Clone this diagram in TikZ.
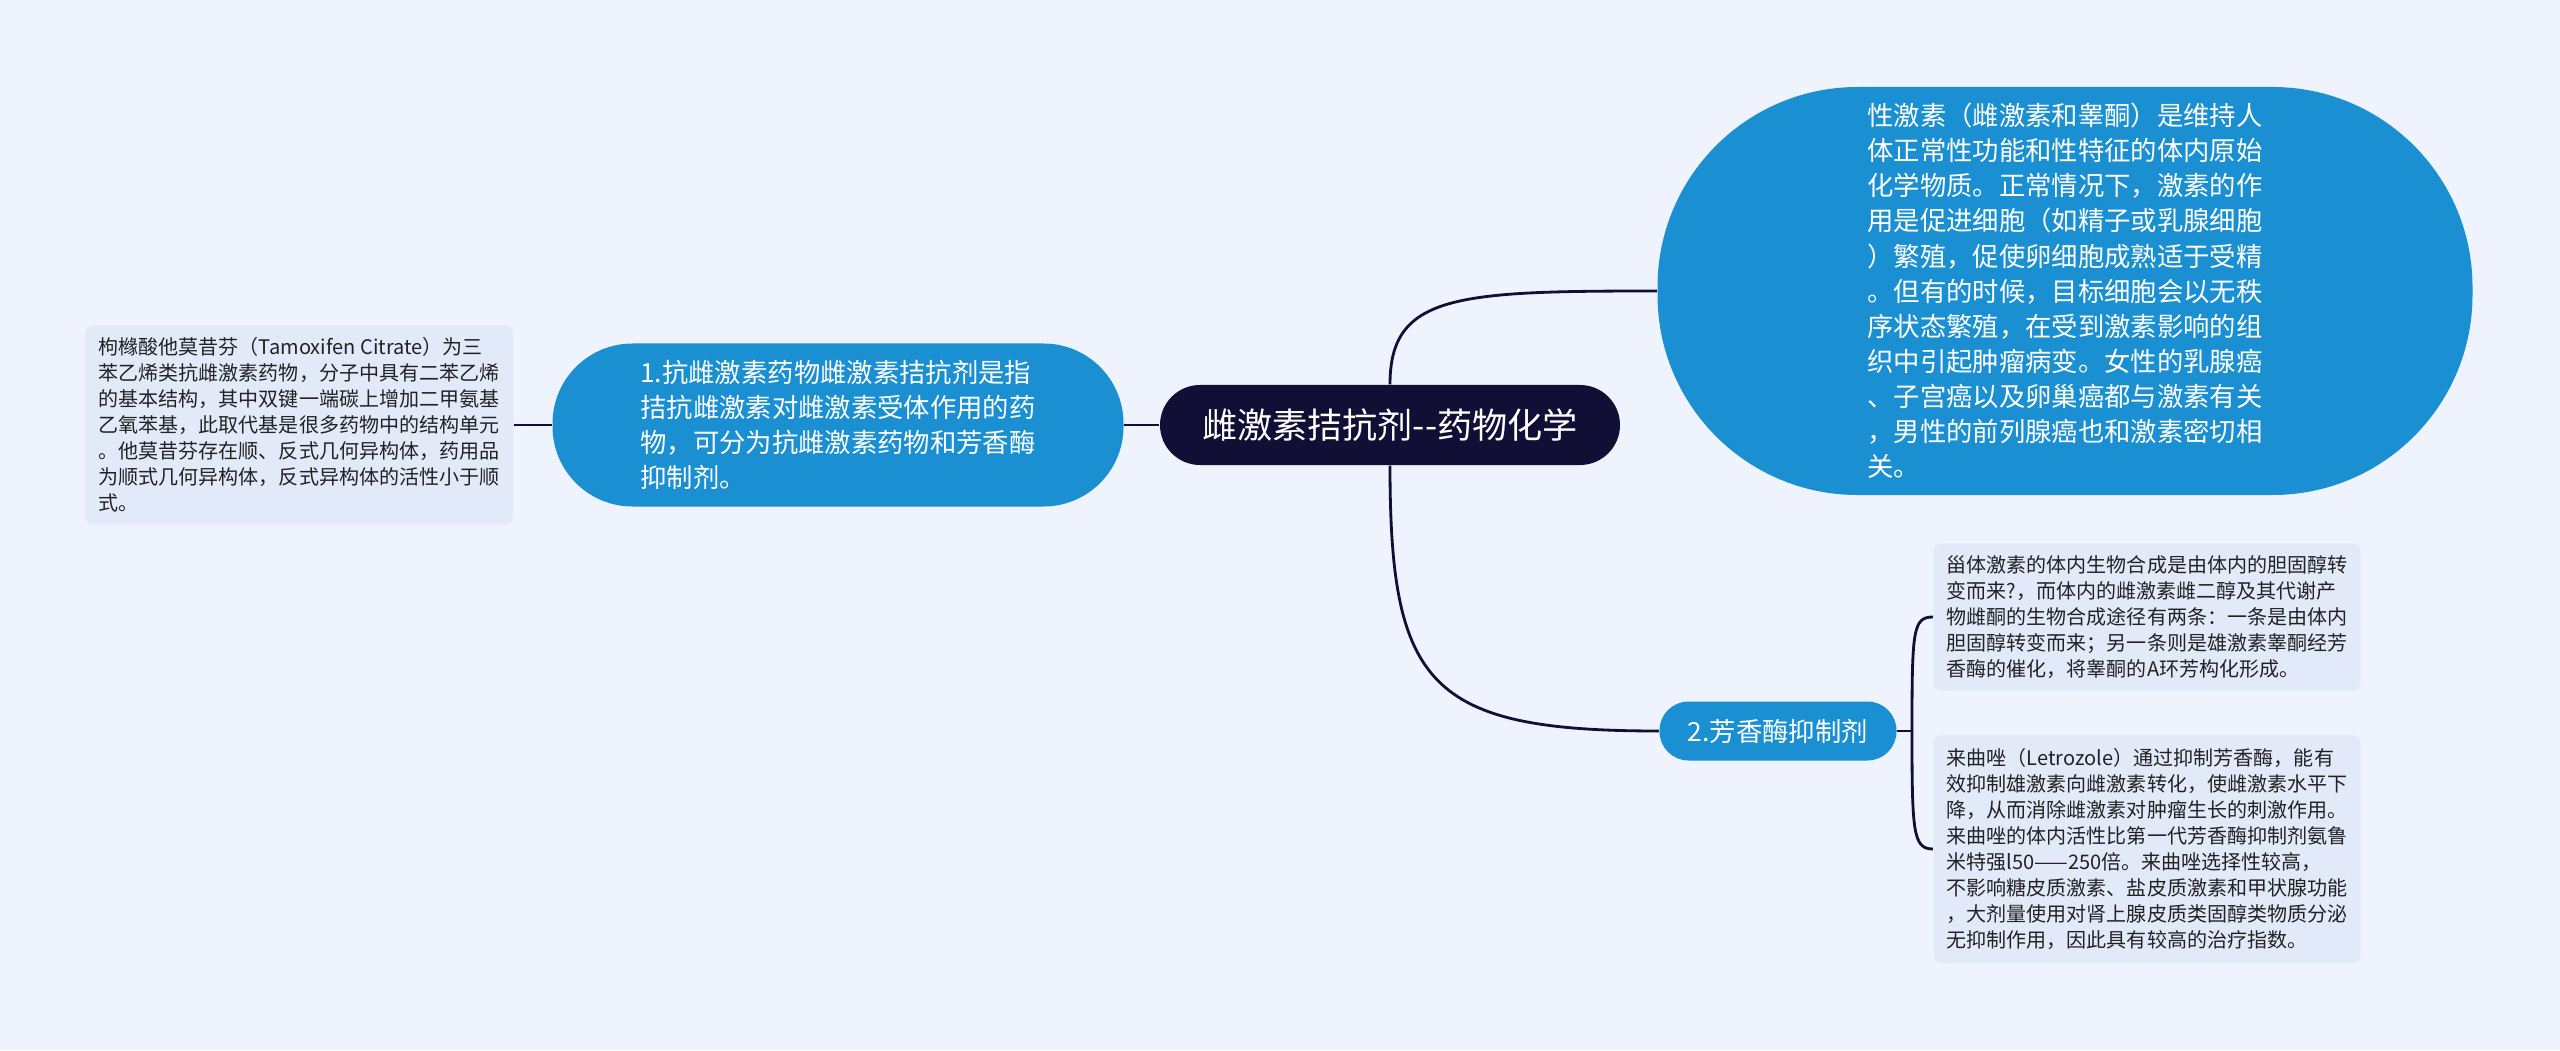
\documentclass[tikz,border=0pt]{standalone}
\usepackage{fontspec}
\newfontfamily\cjk{Noto Sans CJK SC}
\definecolor{bgcol}{HTML}{EEF3FD}
\definecolor{navy}{HTML}{110F35}
\definecolor{topicblue}{HTML}{1A8FD2}
\definecolor{leafcol}{HTML}{E2EAFA}
\definecolor{leaftext}{HTML}{222222}

\begin{document}
\begin{tikzpicture}[root/.style={fill=navy,text=white,rounded corners=0.4cm,minimum width=4.6cm,minimum height=0.8cm,inner sep=0pt,font=\cjk\fontsize{10}{12}\selectfont},
topic/.style={fill=topicblue,text=white,align=left,inner sep=0pt,font=\cjk\fontsize{7.5}{10}\selectfont},
leaf/.style={fill=leafcol,text=leaftext,rounded corners=0.08cm,align=left,inner sep=0pt,font=\cjk\fontsize{5.7}{7.4}\selectfont},
link/.style={draw=navy,line width=0.8pt}]
\fill[bgcol] (0,0) rectangle (25.6,10.5);
\useasboundingbox (0,0) rectangle (25.6,10.5);

\node[root] at (13.90,6.25) (central) {雌激素拮抗剂--药物化学};
\node[topic,rounded corners=0.8cm,minimum width=5.71cm,minimum height=1.63cm] at (8.38,6.25) (anti) {1.抗雌激素药物雌激素拮抗剂是指\\拮抗雌激素对雌激素受体作用的药\\物，可分为抗雌激素药物和芳香酶\\抑制剂。};
\node[leaf,minimum width=4.28cm,minimum height=1.99cm] at (2.99,6.25) (tamox) {枸橼酸他莫昔芬（Tamoxifen Citrate）为三\\苯乙烯类抗雌激素药物，分子中具有二苯乙烯\\的基本结构，其中双键一端碳上增加二甲氨基\\乙氧苯基，此取代基是很多药物中的结构单元\\。他莫昔芬存在顺、反式几何异构体，药用品\\为顺式几何异构体，反式异构体的活性小于顺\\式。};
\node[topic,rounded corners=2cm,minimum width=8.15cm,minimum height=4.08cm] at (20.65,7.59) (sex) {性激素（雌激素和睾酮）是维持人\\体正常性功能和性特征的体内原始\\化学物质。正常情况下，激素的作\\用是促进细胞（如精子或乳腺细胞\\）繁殖，促使卵细胞成熟适于受精\\。但有的时候，目标细胞会以无秩\\序状态繁殖，在受到激素影响的组\\织中引起肿瘤病变。女性的乳腺癌\\、子宫癌以及卵巢癌都与激素有关\\，男性的前列腺癌也和激素密切相\\关。};
\node[topic,rounded corners=0.29cm,minimum width=2.37cm,minimum height=0.59cm] at (17.78,3.19) (arom) {2.芳香酶抑制剂};
\node[leaf,minimum width=4.27cm,minimum height=1.47cm] at (21.47,4.33) (steroid) {甾体激素的体内生物合成是由体内的胆固醇转\\变而来?，而体内的雌激素雌二醇及其代谢产\\物雌酮的生物合成途径有两条：一条是由体内\\胆固醇转变而来；另一条则是雄激素睾酮经芳\\香酶的催化，将睾酮的A环芳构化形成。};
\node[leaf,minimum width=4.27cm,minimum height=2.28cm] at (21.47,2.01) (letro) {来曲唑（Letrozole）通过抑制芳香酶，能有\\效抑制雄激素向雌激素转化，使雌激素水平下\\降，从而消除雌激素对肿瘤生长的刺激作用。\\来曲唑的体内活性比第一代芳香酶抑制剂氨鲁\\米特强l50——250倍。来曲唑选择性较高，\\不影响糖皮质激素、盐皮质激素和甲状腺功能\\，大剂量使用对肾上腺皮质类固醇类物质分泌\\无抑制作用，因此具有较高的治疗指数。};
\coordinate (fork) at (19.12,3.19);

\draw[link] (tamox.east) -- (anti.west);
\draw[link] (anti.east) -- (central.west);
\draw[link] (central.north) .. controls +(0,0.9) and +(-2,0) .. (sex.west);
\draw[link] (central.south) .. controls +(0,-2.2) and +(-2.3,0) .. (arom.west);
\draw[link] (arom.east) -- (fork);
\draw[link] (fork) .. controls +(0,1.0) and +(-0.2,0) .. (steroid.west);
\draw[link] (fork) .. controls +(0,-1.0) and +(-0.2,0) .. (letro.west);
\end{tikzpicture}
\end{document}
